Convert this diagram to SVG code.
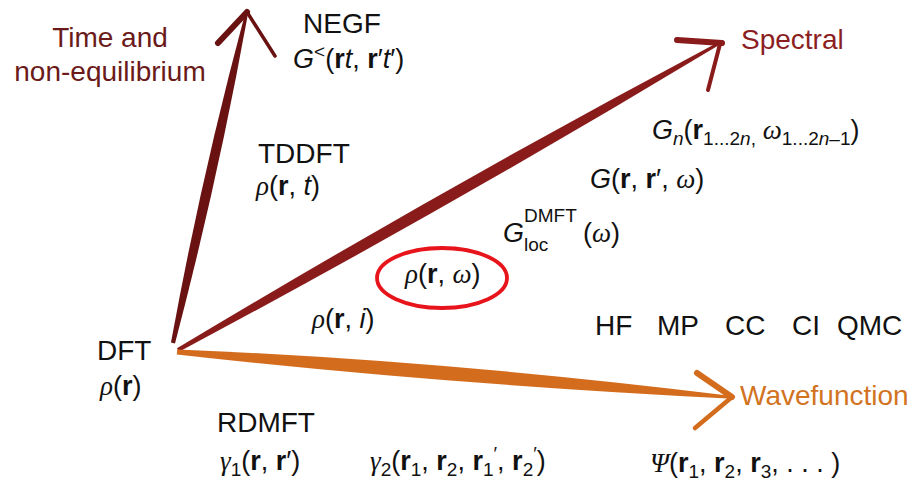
<svg xmlns="http://www.w3.org/2000/svg" width="918" height="485" viewBox="0 0 918 485">
<style>
text{font-family:"Liberation Sans",Arial,sans-serif;font-size:27px;fill:#111}
.lab{font-size:28px}
.i{font-style:italic}
.b{font-weight:bold}
.g{font-family:"Liberation Serif","Times New Roman",serif;font-style:italic}
.s{font-size:19px}
.time{fill:#6b1a1a}
.spec{fill:#8b1f1f}
.wave{fill:#d2731f}
.head{fill:none;stroke-linecap:round;stroke-linejoin:round}
</style>
<rect width="918" height="485" fill="#fff"/>
<g id="connectors">
  <g id="arrow-time">
    <path d="M171,342.6 Q200.7,179 244.5,15.7 L247.5,16.3 Q218.1,179 175,343.4 Z" fill="#6a1212"/>
    <path class="head" d="M218,43 L247,12" stroke="#6a1212" stroke-width="6"/>
    <path class="head" d="M247,12 L275,56" stroke="#6a1212" stroke-width="3.5"/>
  </g>
  <g id="arrow-spectral">
    <path d="M177,348.3 Q448,185.6 717.3,42.7 L718.7,45.3 Q448,208.6 179,351.7 Z" fill="#8a1b1b"/>
    <path class="head" d="M677,40 L722,43" stroke="#8a1b1b" stroke-width="6"/>
    <path class="head" d="M720,44 L708,90" stroke="#8a1b1b" stroke-width="4"/>
  </g>
  <g id="arrow-wave">
    <path d="M177.2,349.5 Q440,360 728.1,395.5 L727.9,398.5 Q440,384 176.8,354.5 Z" fill="#d46c1e"/>
    <path class="head" d="M697,373 L732,397" stroke="#d46c1e" stroke-width="6"/>
    <path class="head" d="M732,397 L695,428" stroke="#d46c1e" stroke-width="4.5"/>
  </g>
</g>
<g id="axis-time"><text class="lab time" x="110" y="47" text-anchor="middle">Time and</text><text class="lab time" x="110" y="81" text-anchor="middle">non-equilibrium</text></g>
<g id="axis-spectral"><text class="lab spec" x="741" y="49">Spectral</text></g>
<g id="axis-wave"><text class="lab wave" x="740" y="405">Wavefunction</text></g>
<g id="negf"><text class="lab" x="342" y="33" text-anchor="middle">NEGF</text>
<text x="293" y="68"><tspan class="i">G</tspan><tspan class="s" dy="-10">&lt;</tspan><tspan dy="10">(</tspan><tspan class="b">r</tspan><tspan class="i">t</tspan>, <tspan class="b">r</tspan>′<tspan class="i">t</tspan>′)</text></g>
<g id="tddft"><text class="lab" x="258" y="163">TDDFT</text>
<text x="256" y="195"><tspan class="g">ρ</tspan>(<tspan class="b">r</tspan>, <tspan class="i">t</tspan>)</text></g>
<g id="gn"><text x="652" y="139"><tspan class="i">G</tspan><tspan class="s i" dy="6">n</tspan><tspan dy="-6">(</tspan><tspan class="b">r</tspan><tspan class="s" dy="6">1...2<tspan class="i">n</tspan>,</tspan><tspan dy="-6" class="g"> ω</tspan><tspan class="s" dy="6">1...2<tspan class="i">n</tspan>–1</tspan><tspan dy="-6">)</tspan></text></g>
<g id="grrw"><text x="590" y="188"><tspan class="i">G</tspan>(<tspan class="b">r</tspan>, <tspan class="b">r</tspan>′, <tspan class="g">ω</tspan>)</text></g>
<g id="gloc"><text x="503" y="242" class="i">G</text><text class="s" x="524" y="222">DMFT</text><text class="s" x="524" y="251">loc</text><text x="583" y="242">(<tspan class="g">ω</tspan>)</text></g>
<g id="rho-rw"><ellipse cx="442" cy="278" rx="65" ry="30" fill="none" stroke="#e8141c" stroke-width="3.8"/>
<text x="405" y="283"><tspan class="g">ρ</tspan>(<tspan class="b">r</tspan>, <tspan class="g">ω</tspan>)</text></g>
<g id="rho-ri"><text x="312" y="328"><tspan class="g">ρ</tspan>(<tspan class="b">r</tspan>, <tspan class="i">i</tspan>)</text></g>
<g id="methods"><text class="lab" x="595" y="335">HF</text><text class="lab" x="657" y="335">MP</text><text class="lab" x="725" y="335">CC</text><text class="lab" x="792" y="335">CI</text><text class="lab" x="837" y="335">QMC</text></g>
<g id="dft"><text class="lab" x="97" y="360">DFT</text>
<text x="100" y="395"><tspan class="g">ρ</tspan>(<tspan class="b">r</tspan>)</text></g>
<g id="rdmft"><text class="lab" x="217" y="432">RDMFT</text>
<text x="220" y="470"><tspan class="g">γ</tspan><tspan class="s" dy="6">1</tspan><tspan dy="-6">(</tspan><tspan class="b">r</tspan>, <tspan class="b">r</tspan>′)</text></g>
<g id="gamma2"><text x="370" y="470"><tspan class="g">γ</tspan><tspan class="s" dy="6">2</tspan><tspan dy="-6">(</tspan><tspan class="b">r</tspan><tspan class="s" dy="6">1</tspan><tspan dy="-6">, </tspan><tspan class="b">r</tspan><tspan class="s" dy="6">2</tspan><tspan dy="-6">, </tspan><tspan class="b">r</tspan><tspan class="s" dy="6">1</tspan><tspan class="s" dy="-16">′</tspan><tspan dy="10">, </tspan><tspan class="b">r</tspan><tspan class="s" dy="6">2</tspan><tspan class="s" dy="-16">′</tspan><tspan dy="10">)</tspan></text></g>
<g id="psi"><text x="650" y="472"><tspan class="g">Ψ</tspan>(<tspan class="b">r</tspan><tspan class="s" dy="6">1</tspan><tspan dy="-6">, </tspan><tspan class="b">r</tspan><tspan class="s" dy="6">2</tspan><tspan dy="-6">, </tspan><tspan class="b">r</tspan><tspan class="s" dy="6">3</tspan><tspan dy="-6">, . . . )</tspan></text></g>
</svg>
